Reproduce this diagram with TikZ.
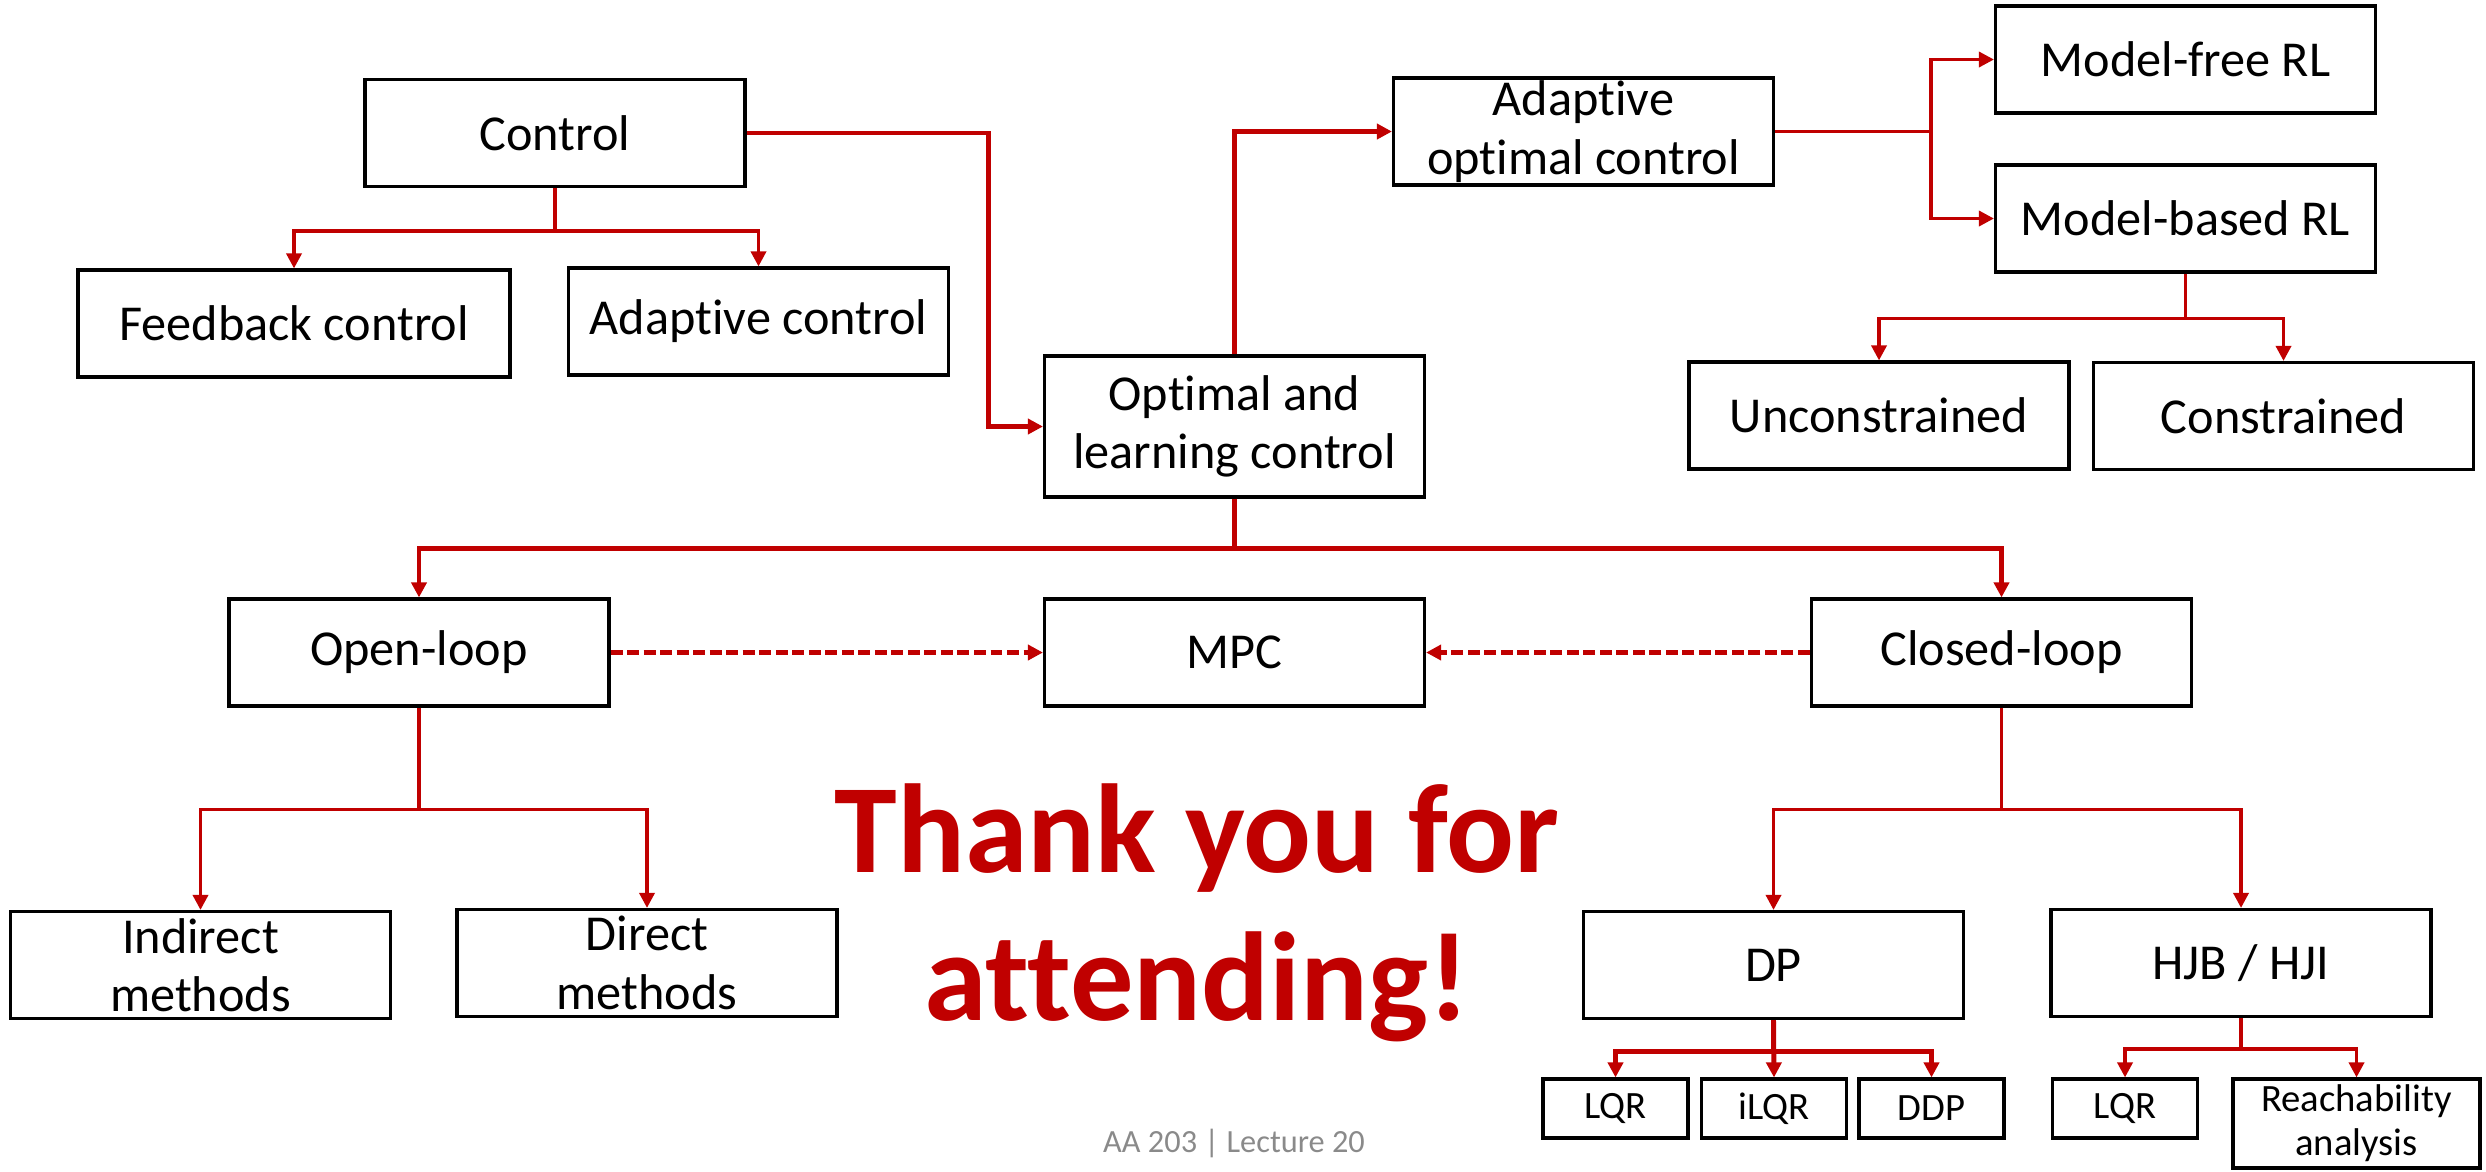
\documentclass[tikz,border=0pt]{standalone}
\usepackage{fontspec}
\setmainfont{Carlito}[Ligatures=NoCommon]
\usepackage{xcolor}
\usetikzlibrary{arrows.meta}
\definecolor{darkred}{HTML}{C00000}
\definecolor{footgray}{HTML}{8A8A8A}

\begin{document}
\begin{tikzpicture}[
    >={Triangle[length=4.3pt,width=4.3pt]},
    box/.style={draw,line width=0.9pt,inner sep=0pt,align=center,
      minimum width=3.8cm,minimum height=1.07cm,
      font=\fontsize{14.3}{16.6}\selectfont},
    leafbox/.style={box,minimum width=1.45cm,minimum height=0.59cm,
      font=\fontsize{11}{12.5}\selectfont},
    link/.style={->,darkred,line width=1pt},
    boldlink/.style={link,line width=1.4pt},
    dlink/.style={link,line width=1.2pt,dash pattern=on 3.4pt off 1.3pt}
    ]

    \useasboundingbox (0,0) rectangle (24.86,-11.71);

    % top part
    \node[box] (ctrl) at (5.55,-1.33) {Control};
    \node[box,minimum width=4.32cm] (fb) at (2.94,-3.235) {Feedback control};
    \node[box] (adapt) at (7.585,-3.215) {Adaptive control};
    \node[box,minimum height=1.41cm] (olc) at (12.345,-4.265)
    {Optimal and\\learning control};
    \node[box] (aoc) at (15.835,-1.315) {Adaptive\\optimal control};
    \node[box] (mfree) at (21.855,-0.595) {Model-free RL};
    \node[box] (mbased) at (21.855,-2.185) {Model-based RL};
    \node[box] (uncon) at (18.79,-4.155) {Unconstrained};
    \node[box] (con) at (22.835,-4.16) {Constrained};

    % middle row
    \node[box] (open) at (4.19,-6.525) {Open-loop};
    \node[box] (mpc) at (12.345,-6.525) {MPC};
    \node[box] (closed) at (20.015,-6.525) {Closed-loop};

    % bottom part
    \node[box] (ind) at (2.005,-9.65) {Indirect\\methods};
    \node[box] (dir) at (6.47,-9.63) {Direct\\methods};
    \node[box] (dp) at (17.735,-9.65) {DP};
    \node[box] (hjb) at (22.41,-9.63) {HJB / HJI};
    \node[leafbox] (lqr) at (16.155,-11.085) {LQR};
    \node[leafbox] (ilqr) at (17.74,-11.085) {iLQR};
    \node[leafbox] (ddp) at (19.315,-11.085) {DDP};
    \node[leafbox] (lqrb) at (21.25,-11.085) {LQR};
    \node[leafbox,minimum width=2.47cm,minimum height=0.89cm] (reach)
    at (23.565,-11.235) {Reachability\\analysis};

    \node[text=darkred,align=center,
    font=\fontsize{36}{42}\selectfont\bfseries] (thanks) at (11.97,-9.13)
    {Thank you for\\attending!};
    \node[text=footgray,font=\fontsize{9.2}{11}\selectfont] (foot)
    at (12.34,-11.43) {AA 203 | Lecture 20};

    % connectors
    \draw[link] (ctrl.south) -- ++(0,-0.43) -| (fb.north);
    \draw[link] (ctrl.south) -- ++(0,-0.43) -| (adapt.north);
    \draw[boldlink] (ctrl.east) -- ++(2.42,0) |- (olc.west);
    \draw[boldlink] (olc.north) |- (aoc.west);
    \draw[link] (aoc.east) -- ++(1.56,0) |- (mfree.west);
    \draw[link] (aoc.east) -- ++(1.56,0) |- (mbased.west);
    \draw[link] (mbased.south) -- ++(0,-0.45) -| (uncon.north);
    \draw[link] (mbased.south) -- ++(0,-0.45) -| (con.north);

    \draw[boldlink] (olc.south) -- ++(0,-0.5) -| (open.north);
    \draw[boldlink] (olc.south) -- ++(0,-0.5) -| (closed.north);
    \draw[dlink] (open.east) -- (mpc.west);
    \draw[dlink] (closed.west) -- (mpc.east);

    \draw[link] (open.south) -- ++(0,-1.02) -| (ind.north);
    \draw[link] (open.south) -- ++(0,-1.02) -| (dir.north);
    \draw[link] (closed.south) -- ++(0,-1.02) -| (dp.north);
    \draw[link] (closed.south) -- ++(0,-1.02) -| (hjb.north);

    \draw[boldlink] (dp.south) -- ++(0,-0.31) -| (lqr.north);
    \draw[boldlink] (dp.south) -- (ilqr.north);
    \draw[boldlink] (dp.south) -- ++(0,-0.31) -| (ddp.north);
    \draw[link] (hjb.south) -- ++(0,-0.31) -| (lqrb.north);
    \draw[link] (hjb.south) -- ++(0,-0.31) -| (reach.north);

\end{tikzpicture}
\end{document}
